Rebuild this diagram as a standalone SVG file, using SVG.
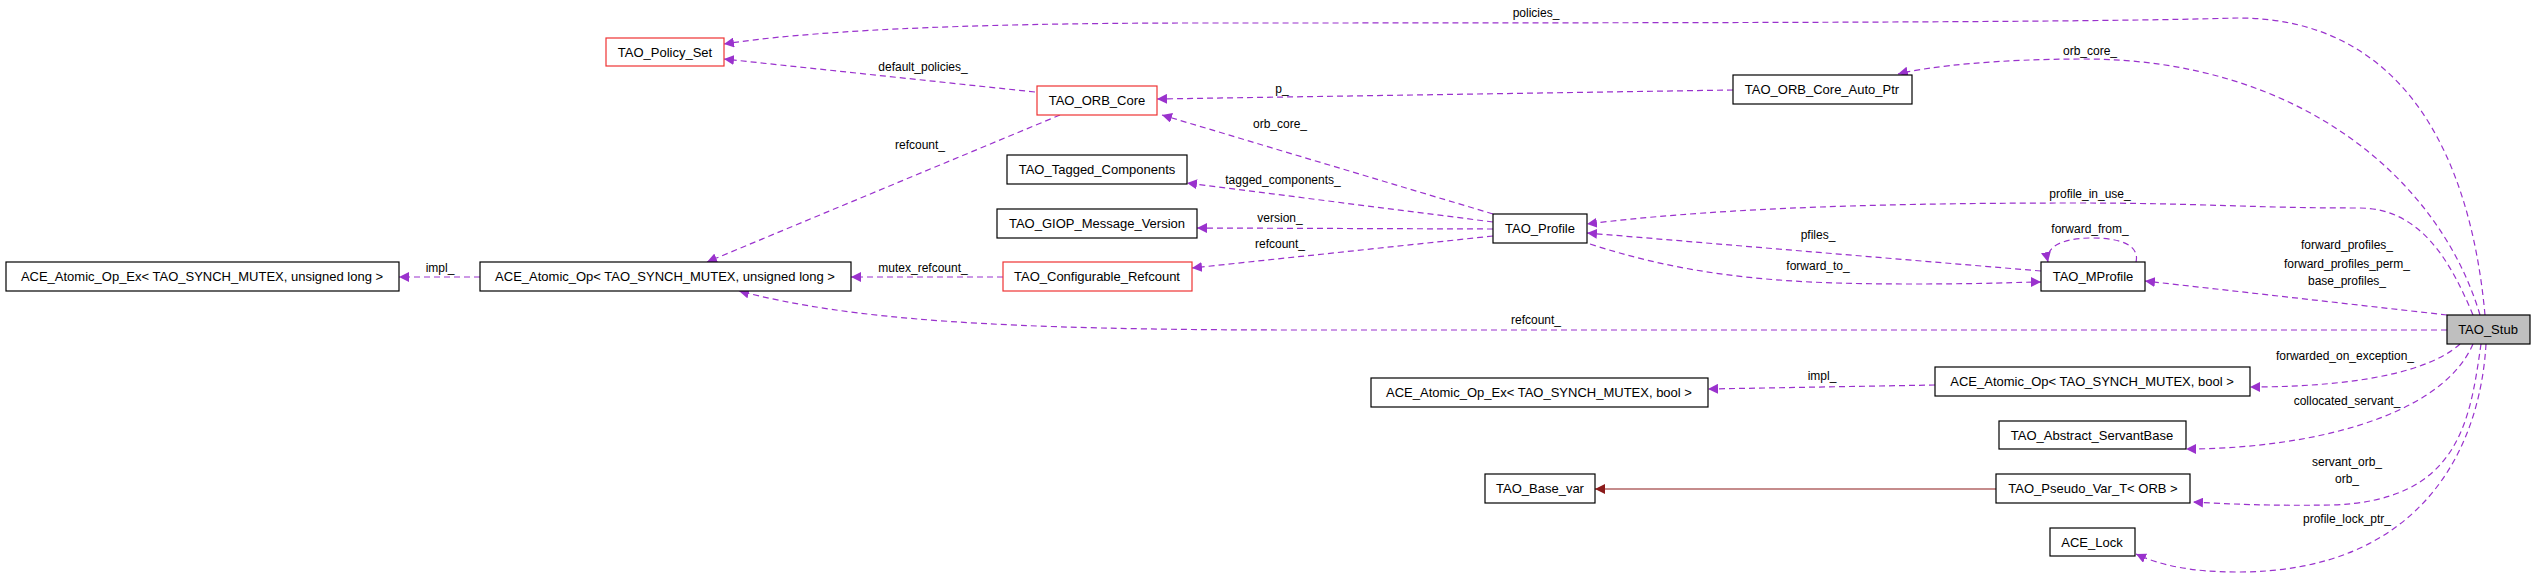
<svg xmlns="http://www.w3.org/2000/svg" width="2536" height="576" viewBox="0 0 2536 576">
<style>
text{font-family:"Liberation Sans",Arial,sans-serif;font-size:13px;fill:#000}
.n{fill:#fff;stroke:#000;stroke-width:1.2}
.r{fill:#fff;stroke:#e33;stroke-width:1.2}
.e{fill:none;stroke:#9a32cd;stroke-width:1.2;stroke-dasharray:6,4;marker-end:url(#a)}
.l{text-anchor:middle;font-size:12px}
</style>
<defs>
<marker id="a" viewBox="0 0 10 10" refX="10" refY="5" markerWidth="10" markerHeight="10" markerUnits="userSpaceOnUse" orient="auto"><path d="M0,0L10,5L0,10z" fill="#9a32cd"/></marker>
<marker id="b" viewBox="0 0 10 10" refX="10" refY="5" markerWidth="10" markerHeight="10" markerUnits="userSpaceOnUse" orient="auto"><path d="M0,0L10,5L0,10z" fill="#8b1a1a"/></marker>
</defs>
<g id="edges">
<path class="e" d="M2485,315C2470,150 2400,18 2238,18C2100,22 1800,23 1200,23C950,23 800,32 724,44"/>
<path class="e" d="M2480,315C2440,180 2300,59 2084,59C2000,59 1930,66 1898,74"/>
<path class="e" d="M1733,90L1157,99"/>
<path class="e" d="M1035,92L724,59"/>
<path class="e" d="M1060,115L707,262"/>
<path class="e" d="M1493,214L1162,115"/>
<path class="e" d="M1493,222L1187,183"/>
<path class="e" d="M1493,229L1197,228"/>
<path class="e" d="M1493,236L1192,268"/>
<path class="e" d="M1003,277L851,277"/>
<path class="e" d="M480,277L399,277"/>
<path class="e" d="M2447,330L1300,330C1000,330 850,320 739,291"/>
<path class="e" d="M2473,315C2450,260 2420,208 2359,208C2250,208 2200,203 2076,203C1850,203 1700,210 1587,224"/>
<path class="e" d="M2041,271L1587,233"/>
<path class="e" d="M1590,244C1700,280 1800,284 1914,284C1990,284 2020,282 2041,282"/>
<path class="e" d="M2136,262C2140,245 2120,238 2092,238C2060,238 2045,248 2048,262"/>
<path class="e" d="M2447,315L2145,281"/>
<path class="e" d="M2460,344C2420,380 2320,387 2250,387"/>
<path class="e" d="M1935,385L1708,389"/>
<path class="e" d="M2473,344C2440,420 2300,449 2186,449"/>
<path class="e" d="M2481,344C2470,420 2460,502 2330,505C2270,506 2230,504 2193,502"/>
<path class="e" d="M2486,344C2480,450 2420,572 2238,572C2190,572 2160,565 2136,554"/>
<path d="M1996,489L1595,489" fill="none" stroke="#8b1a1a" stroke-width="1.2" marker-end="url(#b)"/>
</g>
<g id="labels">
<text class="l" x="1536" y="17">policies_</text>
<text class="l" x="2090" y="55">orb_core_</text>
<text class="l" x="1282" y="93">p_</text>
<text class="l" x="923" y="71">default_policies_</text>
<text class="l" x="920" y="149">refcount_</text>
<text class="l" x="1280" y="128">orb_core_</text>
<text class="l" x="1283" y="184">tagged_components_</text>
<text class="l" x="1280" y="222">version_</text>
<text class="l" x="1280" y="248">refcount_</text>
<text class="l" x="923" y="272">mutex_refcount_</text>
<text class="l" x="440" y="272">impl_</text>
<text class="l" x="1536" y="324">refcount_</text>
<text class="l" x="2090" y="198">profile_in_use_</text>
<text class="l" x="1818" y="239">pfiles_</text>
<text class="l" x="1818" y="270">forward_to_</text>
<text class="l" x="2090" y="233">forward_from_</text>
<text class="l" x="2347" y="249">forward_profiles_</text>
<text class="l" x="2347" y="268">forward_profiles_perm_</text>
<text class="l" x="2347" y="285">base_profiles_</text>
<text class="l" x="2345" y="360">forwarded_on_exception_</text>
<text class="l" x="1822" y="380">impl_</text>
<text class="l" x="2347" y="405">collocated_servant_</text>
<text class="l" x="2347" y="466">servant_orb_</text>
<text class="l" x="2347" y="483">orb_</text>
<text class="l" x="2347" y="523">profile_lock_ptr_</text>
</g>
<g id="TAO_Policy_Set"><rect class="r" x="606" y="38" width="118" height="28"/><text x="665" y="56.5" text-anchor="middle">TAO_Policy_Set</text></g>
<g id="TAO_ORB_Core"><rect class="r" x="1037" y="86" width="120" height="29"/><text x="1097" y="105" text-anchor="middle">TAO_ORB_Core</text></g>
<g id="TAO_Tagged_Components"><rect class="n" x="1007" y="155" width="180" height="29"/><text x="1097" y="174" text-anchor="middle">TAO_Tagged_Components</text></g>
<g id="TAO_GIOP_Message_Version"><rect class="n" x="997" y="209" width="200" height="29"/><text x="1097" y="228" text-anchor="middle">TAO_GIOP_Message_Version</text></g>
<g id="TAO_Configurable_Refcount"><rect class="r" x="1003" y="262" width="189" height="29"/><text x="1097" y="281" text-anchor="middle">TAO_Configurable_Refcount</text></g>
<g id="ACE_Atomic_Op_Ex_ulong"><rect class="n" x="6" y="262" width="393" height="29"/><text x="202" y="281" text-anchor="middle">ACE_Atomic_Op_Ex&lt; TAO_SYNCH_MUTEX, unsigned long &gt;</text></g>
<g id="ACE_Atomic_Op_ulong"><rect class="n" x="480" y="262" width="371" height="29"/><text x="665" y="281" text-anchor="middle">ACE_Atomic_Op&lt; TAO_SYNCH_MUTEX, unsigned long &gt;</text></g>
<g id="TAO_ORB_Core_Auto_Ptr"><rect class="n" x="1733" y="75" width="179" height="29"/><text x="1822" y="94" text-anchor="middle">TAO_ORB_Core_Auto_Ptr</text></g>
<g id="TAO_Profile"><rect class="n" x="1493" y="214" width="94" height="29"/><text x="1540" y="233" text-anchor="middle">TAO_Profile</text></g>
<g id="TAO_MProfile"><rect class="n" x="2041" y="262" width="104" height="29"/><text x="2093" y="281" text-anchor="middle">TAO_MProfile</text></g>
<g id="TAO_Stub"><rect x="2447" y="315" width="83" height="29" fill="#bfbfbf" stroke="#000" stroke-width="1.2"/><text x="2488" y="334" text-anchor="middle">TAO_Stub</text></g>
<g id="ACE_Atomic_Op_bool"><rect class="n" x="1935" y="367" width="315" height="29"/><text x="2092" y="386" text-anchor="middle">ACE_Atomic_Op&lt; TAO_SYNCH_MUTEX, bool &gt;</text></g>
<g id="ACE_Atomic_Op_Ex_bool"><rect class="n" x="1371" y="378" width="337" height="29"/><text x="1539" y="397" text-anchor="middle">ACE_Atomic_Op_Ex&lt; TAO_SYNCH_MUTEX, bool &gt;</text></g>
<g id="TAO_Abstract_ServantBase"><rect class="n" x="1999" y="421" width="187" height="28"/><text x="2092" y="439.5" text-anchor="middle">TAO_Abstract_ServantBase</text></g>
<g id="TAO_Base_var"><rect class="n" x="1485" y="474" width="110" height="29"/><text x="1540" y="493" text-anchor="middle">TAO_Base_var</text></g>
<g id="TAO_Pseudo_Var_T"><rect class="n" x="1996" y="474" width="194" height="29"/><text x="2093" y="493" text-anchor="middle">TAO_Pseudo_Var_T&lt; ORB &gt;</text></g>
<g id="ACE_Lock"><rect class="n" x="2050" y="528" width="85" height="28"/><text x="2092" y="546.5" text-anchor="middle">ACE_Lock</text></g>
</svg>
